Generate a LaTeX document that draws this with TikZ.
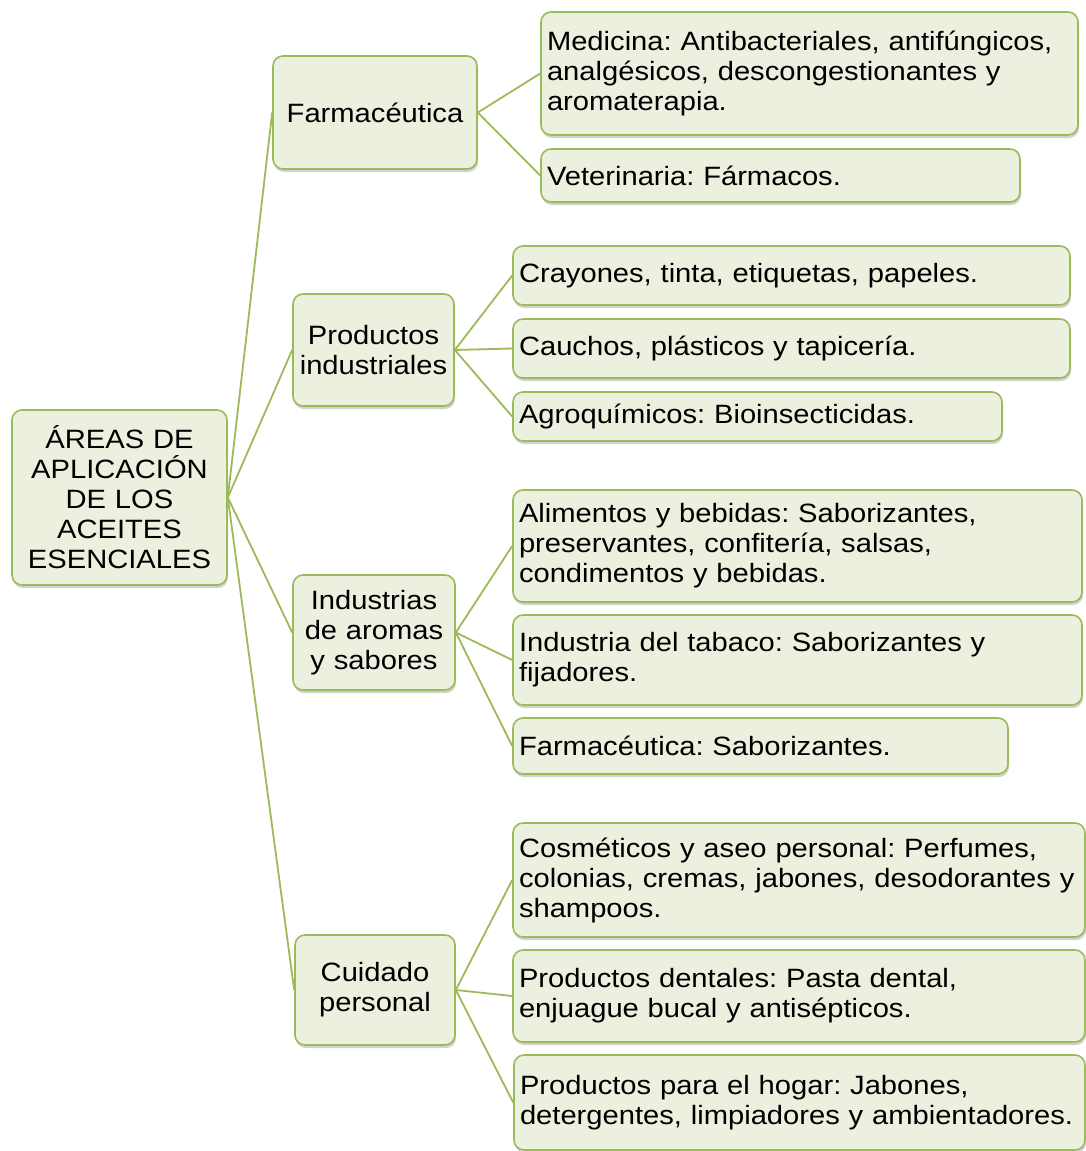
\documentclass[tikz,border=0pt]{standalone}
\usepackage{fontspec}
\setmainfont{Liberation Sans}[FakeStretch=1.1]
\usetikzlibrary{shadows}
\definecolor{boxfill}{HTML}{EBF1DE}
\definecolor{boxline}{HTML}{9BBB59}
\tikzset{
  card/.style={draw=boxline, fill=boxfill, line width=1.6pt, rounded corners=10pt,
    font=\fontsize{26.5}{30}\selectfont\frenchspacing, text=black, inner xsep=6pt, inner ysep=2pt,
    drop shadow={shadow xshift=1pt, shadow yshift=-3pt, opacity=0.3, fill=black!60}},
  leaf/.style={card, align=left},
  mid/.style={card, align=center},
  link/.style={draw=boxline, line width=1.8pt}
}
\newcommand{\leafnode}[6]{% name, cx, cy, w, h, text
  \pgfmathsetmacro{\tw}{#4-12}
  \node[leaf, minimum width=#4pt, minimum height=#5pt, text width=\tw pt] (#1) at (#2,#3) {#6};
}
\begin{document}
\begin{tikzpicture}[x=1pt,y=-1pt]
\useasboundingbox (0,0) rectangle (1086,1151);
% level 0 and 1
\node[mid, minimum width=215pt, minimum height=175pt, text width=203pt] (root) at (119.5,497.5)
  {ÁREAS DE\\APLICACIÓN\\DE LOS\\ACEITES\\ESENCIALES};
\node[mid, minimum width=204pt, minimum height=113pt, text width=192pt] (far) at (375,112.5) {Farmacéutica};
\node[mid, minimum width=161pt, minimum height=112pt, text width=149pt] (pin) at (373.5,350) {Productos\\industriales};
\node[mid, minimum width=162pt, minimum height=115pt, text width=150pt] (iar) at (374,632.5) {Industrias\\de aromas\\y sabores};
\node[mid, minimum width=160pt, minimum height=110pt, text width=148pt] (cui) at (375,990) {Cuidado\\personal};
% leaves
\leafnode{med}{809.5}{73.5}{537}{123}{Medicina: Antibacteriales, antifúngicos,\\analgésicos, descongestionantes y\\aromaterapia.}
\leafnode{vet}{780.5}{175.5}{479}{53}{Veterinaria: Fármacos.}
\leafnode{cra}{791.5}{275.5}{557}{59}{Crayones, tinta, etiquetas, papeles.}
\leafnode{cau}{791.5}{348.5}{557}{59}{Cauchos, plásticos y tapicería.}
\leafnode{agr}{757.5}{416.5}{489}{49}{Agroquímicos: Bioinsecticidas.}
\leafnode{ali}{797.5}{546}{569}{112}{Alimentos y bebidas: Saborizantes,\\preservantes, confitería, salsas,\\condimentos y bebidas.}
\leafnode{tab}{797.5}{660}{569}{90}{Industria del tabaco: Saborizantes y\\fijadores.}
\leafnode{fsa}{760.5}{746}{495}{56}{Farmacéutica: Saborizantes.}
\leafnode{cos}{799}{880}{572}{114}{Cosméticos y aseo personal: Perfumes,\\colonias, cremas, jabones, desodorantes y\\shampoos.}
\leafnode{den}{799}{996}{572}{92}{Productos dentales: Pasta dental,\\enjuague bucal y antisépticos.}
\leafnode{hog}{799.5}{1102.5}{571}{95}{Productos para el hogar: Jabones,\\detergentes, limpiadores y ambientadores.}
% connectors
\foreach \c in {far,pin,iar,cui} \draw[link] (root.east) -- (\c.west);
\foreach \c in {med,vet} \draw[link] (far.east) -- (\c.west);
\foreach \c in {cra,cau,agr} \draw[link] (pin.east) -- (\c.west);
\foreach \c in {ali,tab,fsa} \draw[link] (iar.east) -- (\c.west);
\foreach \c in {cos,den,hog} \draw[link] (cui.east) -- (\c.west);
\end{tikzpicture}
\end{document}
